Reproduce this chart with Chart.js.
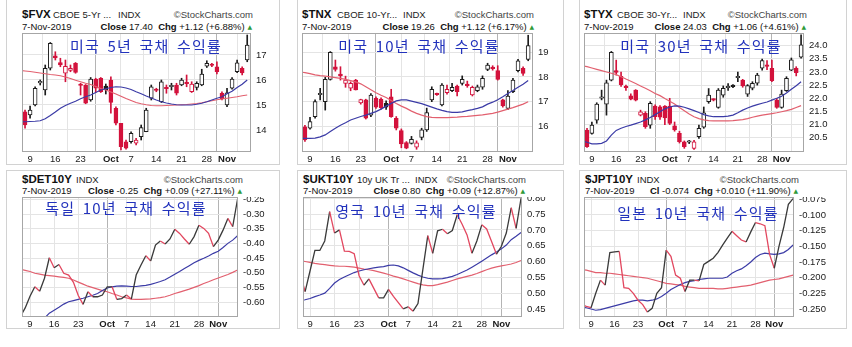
<!DOCTYPE html>
<html>
<head>
<meta charset="utf-8">
<script src="https://cdn.jsdelivr.net/npm/chart.js@4.4.0/dist/chart.umd.min.js"></script>
<style>
  body { margin: 0; background: #fff; width: 852px; height: 347px; position: relative; overflow: hidden;
         font-family: "Liberation Sans", Arial, sans-serif; color: #111; }
  canvas { position: absolute; }
  .pf { position: absolute; border: 1px solid #d2d2d2; box-sizing: border-box; }
  .h { position: absolute; white-space: nowrap; line-height: 1; transform: translateY(-50%); }
  .r { transform: translate(-100%, -50%); }
  .tk { font-weight: bold; font-size: 11.5px; }
  .ds { font-size: 9.5px; color: #222; }
  .cr { font-size: 9.5px; color: #444; }
  .l2 { font-size: 9.5px; }
  .up { font-family: "DejaVu Sans", sans-serif; font-size: 6px; color: #2f9a3a; vertical-align: 1px; }
  .kt { position: absolute; white-space: nowrap; transform: translate(-50%, -50%); z-index: 2;
        font-family: "Noto Sans CJK KR", sans-serif; font-size: 15px; letter-spacing: 1.2px; word-spacing: 3px;
        color: #2232bc; line-height: 1; }
</style>
</head>
<body>

<div class="pf" style="left:6px;top:-1px;width:274px;height:166px"></div>
<div class="pf" style="left:297px;top:-1px;width:267px;height:166px"></div>
<div class="pf" style="left:579px;top:-1px;width:268px;height:166px"></div>
<div class="pf" style="left:6px;top:170px;width:274px;height:159px"></div>
<div class="pf" style="left:297px;top:170px;width:267px;height:159px"></div>
<div class="pf" style="left:579px;top:170px;width:268px;height:159px"></div>

<!-- headers, top row -->
<div class="h tk" style="left:22px;top:15px">$FVX</div>
<div class="h ds" style="left:53px;top:15px">CBOE 5-Yr ...</div>
<div class="h ds" style="left:118px;top:15px">INDX</div>
<div class="h cr r" style="left:253px;top:15px">©StockCharts.com</div>
<div class="h l2" style="left:22px;top:27px">7-Nov-2019</div>
<div class="h l2 r" style="left:252px;top:27px"><b>Close</b> 17.40 &nbsp;<b>Chg</b> +1.12 (+6.88%) <span class="up">▲</span></div>

<div class="h tk" style="left:302px;top:15px">$TNX</div>
<div class="h ds" style="left:337px;top:15px">CBOE 10-Yr...</div>
<div class="h ds" style="left:403px;top:15px">INDX</div>
<div class="h cr r" style="left:534px;top:15px">©StockCharts.com</div>
<div class="h l2" style="left:302px;top:27px">7-Nov-2019</div>
<div class="h l2 r" style="left:534px;top:27px"><b>Close</b> 19.26 &nbsp;<b>Chg</b> +1.12 (+6.17%) <span class="up">▲</span></div>

<div class="h tk" style="left:584px;top:15px">$TYX</div>
<div class="h ds" style="left:617px;top:15px">CBOE 30-Yr...</div>
<div class="h ds" style="left:683px;top:15px">INDX</div>
<div class="h cr r" style="left:807px;top:15px">©StockCharts.com</div>
<div class="h l2" style="left:584px;top:27px">7-Nov-2019</div>
<div class="h l2 r" style="left:806px;top:27px"><b>Close</b> 24.03 &nbsp;<b>Chg</b> +1.06 (+4.61%) <span class="up">▲</span></div>

<!-- headers, bottom row -->
<div class="h tk" style="left:22px;top:180px">$DET10Y</div>
<div class="h ds" style="left:76px;top:180px">INDX</div>
<div class="h cr r" style="left:243px;top:180px">©StockCharts.com</div>
<div class="h l2" style="left:22px;top:191px">7-Nov-2019</div>
<div class="h l2 r" style="left:242px;top:191px"><b>Close</b> -0.25 &nbsp;<b>Chg</b> +0.09 (+27.11%) <span class="up">▲</span></div>

<div class="h tk" style="left:303px;top:180px">$UKT10Y</div>
<div class="h ds" style="left:357px;top:180px">10y UK Tr ...</div>
<div class="h ds" style="left:415px;top:180px">INDX</div>
<div class="h cr r" style="left:526px;top:180px">©StockCharts.com</div>
<div class="h l2" style="left:303px;top:191px">7-Nov-2019</div>
<div class="h l2 r" style="left:525px;top:191px"><b>Close</b> 0.80 &nbsp;<b>Chg</b> +0.09 (+12.87%) <span class="up">▲</span></div>

<div class="h tk" style="left:585px;top:180px">$JPT10Y</div>
<div class="h ds" style="left:637px;top:180px">INDX</div>
<div class="h cr r" style="left:799px;top:180px">©StockCharts.com</div>
<div class="h l2" style="left:585px;top:191px">7-Nov-2019</div>
<div class="h l2 r" style="left:798px;top:191px"><b>Cl</b> -0.074 &nbsp;<b>Chg</b> +0.010 (+11.90%) <span class="up">▲</span></div>

<!-- Korean captions over each plot -->
<div class="kt" style="left:146px;top:45px">미국 5년 국채 수익률</div>
<div class="kt" style="left:419px;top:45px">미국 10년 국채 수익률</div>
<div class="kt" style="left:701px;top:45px">미국 30년 국채 수익률</div>
<div class="kt" style="left:126px;top:207px">독일 10년 국채 수익률</div>
<div class="kt" style="left:416px;top:210px">영국 10년 국채 수익률</div>
<div class="kt" style="left:698px;top:212px">일본 10년 국채 수익률</div>

<script>
// trading days shown on every panel (index = x value)
const DATES = [
  '2019-09-05', '2019-09-06', '2019-09-09', '2019-09-10', '2019-09-11', '2019-09-12', '2019-09-13',
  '2019-09-16', '2019-09-17', '2019-09-18', '2019-09-19', '2019-09-20', '2019-09-23', '2019-09-24',
  '2019-09-25', '2019-09-26', '2019-09-27', '2019-09-30', '2019-10-01', '2019-10-02', '2019-10-03',
  '2019-10-04', '2019-10-07', '2019-10-08', '2019-10-09', '2019-10-10', '2019-10-11', '2019-10-14',
  '2019-10-15', '2019-10-16', '2019-10-17', '2019-10-18', '2019-10-21', '2019-10-22', '2019-10-23',
  '2019-10-24', '2019-10-25', '2019-10-28', '2019-10-29', '2019-10-30', '2019-10-31', '2019-11-01',
  '2019-11-04', '2019-11-05', '2019-11-06', '2019-11-07'
];
const TICK_DATES = ['2019-09-09', '2019-09-16', '2019-09-23', '2019-10-01', '2019-10-07', '2019-10-14', '2019-10-21', '2019-10-28', '2019-11-01'];
const TICK_TEXT = ['9', '16', '23', 'Oct', '7', '14', '21', '28', 'Nov'];
const MONTH_TEXT = ['Oct', 'Nov'];

// $FVX candles
const FVX_OPEN = [null, 14.73, 14.6, 15.0, 15.88, 15.6, 16.47, 16.97, 16.7, 16.27, 16.38, 16.67, 15.82, 15.8, 15.2, 16.04, 16.07, 15.76, 16.0, 14.87, 14.27, 13.53, 13.53, 13.47, 13.73, 13.93, 15.27, 15.62, 15.13, 15.7, 15.73, 15.8, 15.8, 15.9, 15.53, 15.7, 15.8, 16.55, 16.62, 16.53, 15.47, 15.0, 15.67, 16.33, 16.47, 16.8];
const FVX_HIGH = [null, 14.8, 14.96, 15.73, 16.0, 16.6, 17.5, 17.13, 16.87, 16.8, 16.6, 16.7, 15.87, 15.82, 16.1, 16.07, 16.1, 15.84, 16.13, 14.93, 14.27, 13.6, 13.93, 13.67, 14.2, 14.87, 15.8, 15.67, 16.0, 15.8, 15.87, 15.87, 16.07, 16.2, 15.93, 15.93, 16.43, 16.77, 16.67, 16.73, 15.53, 15.67, 16.1, 16.8, 16.53, 17.8];
const FVX_LOW = [null, 14.07, 14.47, 14.96, 15.8, 15.4, 16.4, 16.8, 16.53, 15.93, 16.33, 16.27, 15.4, 15.05, 15.15, 15.5, 15.5, 15.44, 14.67, 14.2, 13.2, 13.23, 13.47, 13.4, 13.6, 13.93, 15.2, 15.53, 15.1, 15.47, 15.6, 15.4, 15.77, 15.73, 15.5, 15.6, 15.77, 16.5, 16.53, 16.24, 15.2, 14.93, 15.63, 16.29, 16.2, 16.73];
const FVX_CLOSE = [null, 14.2, 14.8, 15.67, 15.95, 16.47, 17.47, 16.88, 16.6, 16.55, 16.47, 16.3, 15.78, 15.07, 16.04, 15.67, 15.53, 15.6, 15.1, 14.27, 13.33, 13.27, 13.87, 13.6, 14.1, 14.8, 15.73, 15.58, 15.93, 15.65, 15.77, 15.47, 16.0, 15.85, 15.84, 15.87, 16.24, 16.67, 16.58, 16.33, 15.25, 15.49, 16.04, 16.69, 16.28, 17.40];
const FVX_SMA20 = [14.33, 14.33, 14.34, 14.35, 14.37, 14.45, 14.58, 14.72, 14.87, 14.98, 15.07, 15.15, 15.25, 15.33, 15.40, 15.50, 15.60, 15.65, 15.70, 15.73, 15.72, 15.68, 15.62, 15.53, 15.45, 15.36, 15.28, 15.20, 15.13, 15.08, 15.04, 15.01, 15.00, 15.00, 15.00, 15.03, 15.07, 15.13, 15.20, 15.27, 15.33, 15.45, 15.55, 15.70, 15.83, 16.00];
const FVX_SMA50 = [16.38, 16.36, 16.34, 16.31, 16.28, 16.25, 16.22, 16.20, 16.17, 16.12, 16.06, 15.99, 15.93, 15.87, 15.82, 15.74, 15.66, 15.60, 15.52, 15.44, 15.35, 15.26, 15.18, 15.10, 15.05, 15.01, 14.98, 14.97, 14.97, 14.98, 14.99, 15.00, 15.01, 15.02, 15.04, 15.06, 15.09, 15.13, 15.17, 15.21, 15.24, 15.27, 15.30, 15.33, 15.37, 15.40];
const FVX_TICKS = [14, 15, 16, 17];

// $TNX candles
const TNX_OPEN = [null, 15.99, 15.93, 16.4, 17.28, 17.0, 17.9, 18.41, 18.1, 17.74, 17.54, 17.87, 16.95, 17.07, 16.46, 17.13, 17.1, 16.93, 17.2, 16.33, 15.83, 15.35, 15.32, 15.16, 15.56, 15.86, 17.07, 17.32, 16.87, 17.36, 17.44, 17.63, 17.74, 17.7, 17.27, 17.44, 17.58, 18.3, 18.36, 18.25, 17.07, 16.73, 17.4, 18.25, 18.34, 18.7];
const TNX_HIGH = [null, 16.05, 16.37, 17.07, 17.54, 17.98, 19.02, 18.68, 18.41, 18.03, 17.8, 17.9, 17.1, 17.1, 17.33, 17.2, 17.15, 17.03, 17.5, 16.4, 15.9, 15.39, 15.6, 15.42, 15.93, 16.74, 17.6, 17.35, 17.73, 17.67, 17.74, 17.67, 18.04, 17.83, 17.63, 17.67, 18.04, 18.55, 18.45, 18.45, 17.1, 17.45, 17.94, 18.71, 18.41, 19.68];
const TNX_LOW = [null, 15.4, 15.89, 16.33, 17.07, 16.66, 17.87, 18.23, 17.87, 17.58, 17.44, 17.47, 16.9, 16.3, 16.4, 16.73, 16.7, 16.69, 16.37, 15.86, 15.14, 15.1, 15.29, 15.08, 15.46, 15.8, 17.0, 17.25, 16.83, 17.3, 17.4, 17.23, 17.67, 17.58, 17.23, 17.4, 17.5, 18.25, 18.27, 17.87, 16.78, 16.68, 17.36, 18.2, 18.06, 18.65];
const TNX_CLOSE = [null, 15.46, 16.2, 17.0, 17.33, 17.9, 18.99, 18.3, 18.05, 17.87, 17.74, 17.47, 17.08, 16.33, 17.27, 16.78, 16.75, 16.78, 16.4, 15.93, 15.3, 15.12, 15.48, 15.34, 15.86, 16.56, 17.5, 17.28, 17.67, 17.5, 17.58, 17.4, 17.9, 17.65, 17.58, 17.6, 17.94, 18.48, 18.33, 17.9, 16.83, 17.23, 17.87, 18.65, 18.14, 19.26];
const TNX_SMA20 = [15.52, 15.52, 15.52, 15.53, 15.58, 15.66, 15.80, 15.93, 16.05, 16.15, 16.26, 16.33, 16.40, 16.46, 16.53, 16.60, 16.70, 16.82, 16.93, 17.03, 17.07, 17.07, 17.02, 16.97, 16.92, 16.85, 16.78, 16.71, 16.65, 16.60, 16.57, 16.57, 16.59, 16.64, 16.68, 16.73, 16.79, 16.90, 16.98, 17.08, 17.20, 17.33, 17.45, 17.58, 17.70, 17.85];
const TNX_SMA50 = [18.20, 18.17, 18.13, 18.08, 18.05, 18.03, 18.00, 17.97, 17.94, 17.90, 17.85, 17.80, 17.72, 17.60, 17.48, 17.36, 17.26, 17.17, 17.05, 16.93, 16.82, 16.73, 16.62, 16.53, 16.46, 16.40, 16.37, 16.36, 16.36, 16.36, 16.37, 16.38, 16.40, 16.41, 16.43, 16.45, 16.47, 16.50, 16.53, 16.58, 16.64, 16.70, 16.76, 16.83, 16.90, 17.00];
const TNX_TICKS = [16, 17, 18, 19];

// $TYX candles
const TYX_OPEN = [null, 20.79, 20.67, 21.17, 22.0, 21.78, 22.69, 23.05, 22.83, 22.44, 22.09, 22.31, 21.36, 21.43, 20.98, 21.7, 21.68, 21.7, 21.7, 20.95, 20.67, 20.35, 20.33, 20.1, 20.54, 20.9, 21.87, 21.95, 21.65, 22.12, 22.40, 22.5, 22.78, 22.69, 22.16, 22.38, 22.57, 23.14, 23.25, 23.14, 21.93, 21.65, 22.29, 23.07, 23.14, 23.56];
const TYX_HIGH = [null, 20.86, 21.1, 21.83, 22.31, 22.69, 23.78, 23.45, 23.0, 22.5, 22.17, 22.33, 21.55, 21.49, 21.87, 21.75, 21.72, 21.72, 22.0, 21.1, 20.75, 20.38, 20.4, 20.4, 20.98, 21.67, 22.37, 21.98, 22.37, 22.47, 22.56, 22.52, 23.0, 22.72, 22.52, 22.63, 22.95, 23.49, 23.43, 23.45, 22.0, 22.31, 22.82, 23.53, 23.2, 24.41];
const TYX_LOW = [null, 20.13, 20.64, 21.05, 21.94, 21.36, 22.66, 22.88, 22.45, 22.3, 21.94, 21.9, 21.33, 20.86, 20.86, 21.2, 21.2, 21.0, 21.0, 20.75, 20.3, 20.1, 20.28, 20.06, 20.48, 20.86, 21.81, 21.9, 21.62, 22.04, 22.3, 22.4, 22.63, 22.42, 22.07, 22.32, 22.5, 23.07, 23.09, 22.63, 21.62, 21.62, 22.26, 23.05, 22.85, 23.52];
const TYX_CLOSE = [null, 20.16, 20.98, 21.78, 22.04, 22.59, 23.75, 22.98, 22.52, 22.40, 21.97, 21.93, 21.49, 20.92, 21.81, 21.3, 21.28, 21.25, 21.05, 20.8, 20.35, 20.16, 20.36, 20.35, 20.86, 21.45, 22.12, 21.93, 22.31, 22.38, 22.42, 22.44, 22.8, 22.47, 22.48, 22.57, 22.88, 23.43, 23.21, 22.67, 21.65, 22.16, 22.76, 23.46, 22.97, 24.03];
const TYX_SMA20 = [20.38, 20.33, 20.27, 20.27, 20.29, 20.38, 20.60, 20.78, 20.86, 20.93, 20.98, 21.04, 21.10, 21.18, 21.27, 21.38, 21.49, 21.60, 21.67, 21.71, 21.70, 21.66, 21.60, 21.53, 21.46, 21.38, 21.33, 21.30, 21.30, 21.30, 21.32, 21.36, 21.45, 21.55, 21.63, 21.70, 21.76, 21.81, 21.86, 21.93, 22.00, 22.08, 22.20, 22.34, 22.48, 22.63];
const TYX_SMA50 = [23.24, 23.20, 23.15, 23.10, 23.05, 23.00, 22.95, 22.90, 22.82, 22.73, 22.65, 22.56, 22.47, 22.38, 22.29, 22.18, 22.10, 21.99, 21.89, 21.78, 21.65, 21.53, 21.40, 21.30, 21.23, 21.18, 21.15, 21.14, 21.14, 21.14, 21.14, 21.15, 21.17, 21.19, 21.23, 21.28, 21.32, 21.36, 21.39, 21.42, 21.45, 21.49, 21.53, 21.58, 21.65, 21.72];
const TYX_TICKS = [20.5, 21, 21.5, 22, 22.5, 23, 23.5, 24];

// $DET10Y closes
const DET_CLOSE = [-0.65, -0.62, -0.58, -0.548, -0.563, -0.519, -0.449, -0.483, -0.472, -0.502, -0.508, -0.533, -0.578, -0.608, -0.565, -0.582, -0.582, -0.576, -0.548, -0.548, -0.591, -0.588, -0.576, -0.59, -0.508, -0.474, -0.442, -0.46, -0.406, -0.392, -0.402, -0.385, -0.352, -0.366, -0.385, -0.403, -0.377, -0.338, -0.349, -0.366, -0.411, -0.389, -0.355, -0.315, -0.343, -0.25];
const DET_SMA20 = [null, null, null, null, null, -0.655, -0.638, -0.628, -0.618, -0.607, -0.599, -0.595, -0.591, -0.587, -0.582, -0.577, -0.571, -0.561, -0.552, -0.548, -0.546, -0.545, -0.546, -0.547, -0.547, -0.545, -0.543, -0.540, -0.535, -0.530, -0.524, -0.515, -0.505, -0.496, -0.486, -0.476, -0.466, -0.458, -0.451, -0.443, -0.434, -0.427, -0.414, -0.400, -0.389, -0.374];
const DET_SMA50 = [-0.488, -0.492, -0.496, -0.502, -0.505, -0.508, -0.51, -0.512, -0.514, -0.516, -0.519, -0.525, -0.532, -0.539, -0.546, -0.551, -0.556, -0.561, -0.565, -0.571, -0.576, -0.582, -0.586, -0.59, -0.591, -0.591, -0.59, -0.589, -0.587, -0.585, -0.582, -0.577, -0.571, -0.566, -0.561, -0.556, -0.55, -0.544, -0.537, -0.531, -0.524, -0.518, -0.512, -0.506, -0.499, -0.491];
const DET_TICKS = [-0.60, -0.55, -0.50, -0.45, -0.40, -0.35, -0.30, -0.25];

// $UKT10Y closes
const UKT_CLOSE = [0.56, 0.505, 0.57, 0.635, 0.635, 0.665, 0.758, 0.69, 0.70, 0.633, 0.632, 0.625, 0.555, 0.525, 0.545, 0.515, 0.485, 0.485, 0.512, 0.49, 0.47, 0.45, 0.457, 0.443, 0.467, 0.575, 0.682, 0.626, 0.697, 0.702, 0.688, 0.698, 0.748, 0.718, 0.684, 0.626, 0.665, 0.716, 0.703, 0.663, 0.623, 0.648, 0.69, 0.77, 0.705, 0.80];
const UKT_SMA20 = [0.477, 0.479, 0.483, 0.489, 0.494, 0.5, 0.515, 0.532, 0.543, 0.551, 0.558, 0.565, 0.57, 0.574, 0.577, 0.58, 0.582, 0.584, 0.588, 0.589, 0.586, 0.58, 0.572, 0.564, 0.557, 0.551, 0.547, 0.545, 0.545, 0.546, 0.549, 0.553, 0.559, 0.566, 0.573, 0.582, 0.591, 0.601, 0.611, 0.621, 0.63, 0.64, 0.652, 0.669, 0.68, 0.692];
const UKT_SMA50 = [0.603, 0.6, 0.597, 0.594, 0.592, 0.59, 0.588, 0.586, 0.585, 0.585, 0.584, 0.582, 0.579, 0.576, 0.574, 0.571, 0.567, 0.563, 0.559, 0.554, 0.55, 0.545, 0.54, 0.535, 0.53, 0.526, 0.524, 0.524, 0.527, 0.531, 0.535, 0.54, 0.545, 0.549, 0.553, 0.557, 0.562, 0.568, 0.574, 0.579, 0.583, 0.586, 0.589, 0.592, 0.597, 0.603];
const UKT_TICKS = [0.45, 0.50, 0.55, 0.60, 0.65, 0.70, 0.75, 0.80];

// $JPT10Y closes
const JPT_CLOSE = [-0.243, -0.246, -0.248, -0.225, -0.204, -0.212, -0.160, -0.159, -0.158, -0.216, -0.217, -0.225, -0.236, -0.243, -0.255, -0.249, -0.225, -0.216, -0.156, -0.166, -0.196, -0.201, -0.222, -0.204, -0.204, -0.205, -0.179, -0.174, -0.169, -0.160, -0.148, -0.137, -0.126, -0.133, -0.140, -0.143, -0.127, -0.112, -0.114, -0.117, -0.163, -0.185, -0.150, -0.120, -0.083, -0.074];
const JPT_SMA20 = [-0.247, -0.248, -0.25, -0.252, -0.251, -0.249, -0.247, -0.245, -0.243, -0.241, -0.239, -0.237, -0.236, -0.236, -0.237, -0.236, -0.234, -0.23, -0.225, -0.219, -0.215, -0.211, -0.208, -0.206, -0.205, -0.203, -0.202, -0.201, -0.201, -0.201, -0.201, -0.199, -0.193, -0.189, -0.186, -0.181, -0.175, -0.168, -0.163, -0.161, -0.162, -0.163, -0.162, -0.16, -0.155, -0.148];
const JPT_SMA50 = [-0.187, -0.188, -0.19, -0.192, -0.192, -0.193, -0.193, -0.194, -0.195, -0.196, -0.197, -0.198, -0.199, -0.2, -0.201, -0.203, -0.205, -0.207, -0.209, -0.21, -0.211, -0.212, -0.214, -0.215, -0.216, -0.217, -0.217, -0.217, -0.217, -0.218, -0.218, -0.217, -0.216, -0.215, -0.214, -0.213, -0.212, -0.21, -0.208, -0.206, -0.204, -0.203, -0.202, -0.2, -0.198, -0.196];
const JPT_TICKS = [-0.250, -0.225, -0.200, -0.175, -0.150, -0.125, -0.100, -0.075];

// plot rectangles on the page and axis extents
const PANELS = {
  fvx: { left: 22,  top: 33,  right: 251, bottom: 152, xMin: 0.4,  xMax: 45.75, yMin: 13.12,  yMax: 17.88 },
  tnx: { left: 302, top: 33,  right: 533, bottom: 152, xMin: 0.42, xMax: 45.95, yMin: 14.97,  yMax: 19.77 },
  tyx: { left: 584, top: 33,  right: 804, bottom: 152, xMin: 0.38, xMax: 45.6,  yMin: 19.96,  yMax: 24.48 },
  det: { left: 22,  top: 197, right: 238, bottom: 317, xMin: 0.34, xMax: 45.1,  yMin: -0.651, yMax: -0.242 },
  ukt: { left: 303, top: 197, right: 522, bottom: 317, xMin: 0.57, xMax: 45.2,  yMin: 0.4245, yMax: 0.804 },
  jpt: { left: 584, top: 197, right: 794, bottom: 317, xMin: 0.5,  xMax: 45.2,  yMin: -0.2628, yMax: -0.0713 }
};
const Y_AXIS_W = 40;
const X_AXIS_H = 14;

const BLACK = '#1c1c1c';
const CANDLE_RED = '#d3123c';
const LINE_BLACK = '#3a3a3a';
const LINE_RED = '#e2475f';
const MA_BLUE = '#3b3ba6';
const MA_RED = '#e2606f';

Chart.defaults.font.family = '"Liberation Sans", Arial, sans-serif';
Chart.defaults.color = '#1a1a1a';

const TICK_POS = TICK_DATES.map(d => DATES.indexOf(d));

const framePlugin = {
  id: 'frame',
  afterDatasetsDraw(chart) {
    const { ctx, chartArea: a } = chart;
    ctx.save();
    ctx.strokeStyle = '#a6a6a6';
    ctx.lineWidth = 1;
    ctx.strokeRect(a.left + 0.5, a.top + 0.5, a.right - a.left - 1, a.bottom - a.top - 1);
    ctx.restore();
  }
};

function makeCanvas(p) {
  const c = document.createElement('canvas');
  c.width = p.right - p.left + Y_AXIS_W;
  c.height = p.bottom - p.top + X_AXIS_H;
  c.style.left = p.left + 'px';
  c.style.top = p.top + 'px';
  document.body.appendChild(c);
  return c;
}

function axes(p, yTicks, digits) {
  const isMonth = v => MONTH_TEXT.includes(TICK_TEXT[TICK_POS.indexOf(v)]);
  return {
    x: {
      type: 'linear', min: p.xMin, max: p.xMax, offset: false,
      border: { display: false },
      grid: { drawTicks: false, color: c => (c.tick && isMonth(c.tick.value)) ? '#b4b4b4' : '#e4e4e4' },
      ticks: {
        autoSkip: false, maxRotation: 0, padding: 2,
        font: c => ({ size: 9.5, weight: (c.tick && isMonth(c.tick.value)) ? 'bold' : 'normal' }),
        callback: v => TICK_TEXT[TICK_POS.indexOf(v)]
      },
      afterBuildTicks: ax => { ax.ticks = TICK_POS.map(v => ({ value: v })); },
      afterFit: ax => { ax.height = X_AXIS_H; ax.paddingLeft = 0; ax.paddingRight = 0; }
    },
    y: {
      type: 'linear', position: 'right', min: p.yMin, max: p.yMax,
      border: { display: false },
      grid: { drawTicks: false, color: '#e4e4e4' },
      ticks: { padding: 5, font: { size: 9.5 }, callback: v => v.toFixed(digits) },
      afterBuildTicks: ax => { ax.ticks = yTicks.map(v => ({ value: v })); },
      afterFit: ax => { ax.width = Y_AXIS_W; ax.paddingTop = 0; ax.paddingBottom = 0; }
    }
  };
}

const baseOptions = {
  responsive: false, animation: false, devicePixelRatio: 1,
  layout: { padding: 0 },
  plugins: { legend: { display: false }, tooltip: { enabled: false } }
};

function maLine(values, color) {
  return {
    type: 'line', data: values.map((v, k) => ({ x: k, y: v })),
    borderColor: color, borderWidth: 1.2, pointRadius: 0, order: 0
  };
}

// candle chart: body = floating bar open..close, wick = thin bar low..high
function candleChart(key, open, high, low, close, fast, slow, yTicks, digits) {
  const p = PANELS[key];
  const bodies = [], wicks = [], fills = [], edges = [];
  for (let k = 0; k < DATES.length; k++) {
    if (open[k] == null) continue;
    const prev = k > 0 ? close[k - 1] : null;
    const down = prev == null ? close[k] < open[k] : close[k] < prev;
    const col = down ? CANDLE_RED : BLACK;
    bodies.push({ x: k, y: [open[k], close[k]] });
    wicks.push({ x: k, y: [low[k], high[k]] });
    edges.push(col);
    fills.push(close[k] < open[k] ? col : '#ffffff');
  }
  new Chart(makeCanvas(p), {
    type: 'bar',
    data: {
      datasets: [
        maLine(fast, MA_BLUE),
        maLine(slow, MA_RED),
        { data: bodies, backgroundColor: fills, borderColor: edges, borderWidth: 1, borderSkipped: false,
          barThickness: 4, minBarLength: 1.5, grouped: false, order: 1 },
        { data: wicks, backgroundColor: edges, borderWidth: 0, barThickness: 1, grouped: false, order: 2 }
      ]
    },
    options: { ...baseOptions, scales: axes(p, yTicks, digits) },
    plugins: [framePlugin]
  });
}

// close line coloured black on up days, red on down days
function lineChart(key, close, fast, slow, yTicks, digits) {
  const p = PANELS[key];
  new Chart(makeCanvas(p), {
    type: 'line',
    data: {
      datasets: [
        { data: close.map((v, k) => ({ x: k, y: v })), borderWidth: 1.3, pointRadius: 0, borderColor: LINE_BLACK,
          segment: { borderColor: s => s.p1.parsed.y < s.p0.parsed.y ? LINE_RED : LINE_BLACK } },
        { data: fast.map((v, k) => ({ x: k, y: v })), borderColor: MA_BLUE, borderWidth: 1.2, pointRadius: 0 },
        { data: slow.map((v, k) => ({ x: k, y: v })), borderColor: MA_RED, borderWidth: 1.2, pointRadius: 0 }
      ]
    },
    options: { ...baseOptions, scales: axes(p, yTicks, digits) },
    plugins: [framePlugin]
  });
}

candleChart('fvx', FVX_OPEN, FVX_HIGH, FVX_LOW, FVX_CLOSE, FVX_SMA20, FVX_SMA50, FVX_TICKS, 0);
candleChart('tnx', TNX_OPEN, TNX_HIGH, TNX_LOW, TNX_CLOSE, TNX_SMA20, TNX_SMA50, TNX_TICKS, 0);
candleChart('tyx', TYX_OPEN, TYX_HIGH, TYX_LOW, TYX_CLOSE, TYX_SMA20, TYX_SMA50, TYX_TICKS, 1);
lineChart('det', DET_CLOSE, DET_SMA20, DET_SMA50, DET_TICKS, 2);
lineChart('ukt', UKT_CLOSE, UKT_SMA20, UKT_SMA50, UKT_TICKS, 2);
lineChart('jpt', JPT_CLOSE, JPT_SMA20, JPT_SMA50, JPT_TICKS, 3);
</script>
</body>
</html>
